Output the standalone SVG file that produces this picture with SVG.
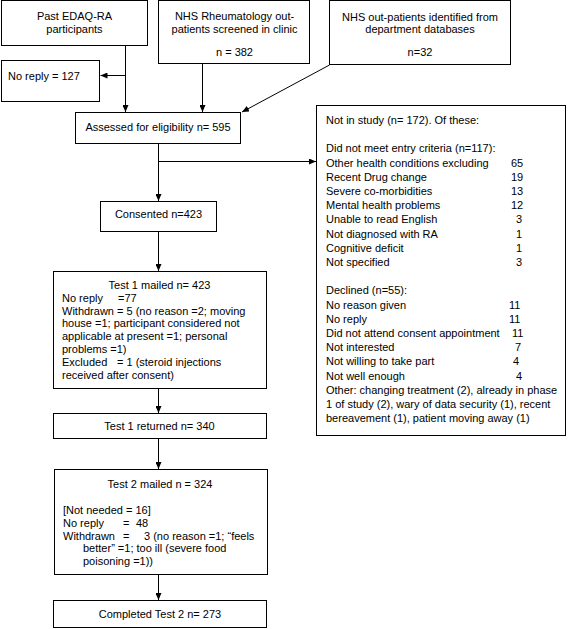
<svg xmlns="http://www.w3.org/2000/svg" width="568" height="629" viewBox="0 0 568 629">
<style>
.box{fill:#fff;stroke:#000;stroke-width:1}
text{font-family:"Liberation Sans",Arial,sans-serif;font-size:11px;fill:#000}
.c{text-anchor:middle}
.ln{fill:none;stroke:#000;stroke-width:1}
</style>
<defs>
<marker id="ah" markerWidth="7" markerHeight="6" refX="7" refY="3" orient="auto" markerUnits="userSpaceOnUse">
<path d="M0,0 L7,3 L0,6 z" fill="#000"/>
</marker>
</defs>
<rect width="568" height="629" fill="#fff"/>
<g id="connectors">
<line class="ln" x1="125.5" y1="46" x2="125.5" y2="112" marker-end="url(#ah)"/>
<line class="ln" x1="125.5" y1="75.5" x2="100.5" y2="75.5" marker-end="url(#ah)"/>
<line class="ln" x1="202.5" y1="64" x2="202.5" y2="112" marker-end="url(#ah)"/>
<line class="ln" x1="329.5" y1="65" x2="242" y2="112" marker-end="url(#ah)"/>
<line class="ln" x1="158.5" y1="144" x2="158.5" y2="201" marker-end="url(#ah)"/>
<line class="ln" x1="158.5" y1="161.5" x2="316" y2="161.5" marker-end="url(#ah)"/>
<line class="ln" x1="158.5" y1="232" x2="158.5" y2="271" marker-end="url(#ah)"/>
<line class="ln" x1="158.5" y1="389" x2="158.5" y2="413" marker-end="url(#ah)"/>
<line class="ln" x1="158.5" y1="439" x2="158.5" y2="469" marker-end="url(#ah)"/>
<line class="ln" x1="158.5" y1="575" x2="158.5" y2="600" marker-end="url(#ah)"/>
</g>
<g id="past">
<rect class="box" x="1.5" y="0.5" width="146" height="45"/>
<text class="c" x="74.5" y="20">Past EDAQ-RA</text>
<text class="c" x="74.5" y="32.5">participants</text>
</g>
<g id="rheum">
<rect class="box" x="158.5" y="0.5" width="151" height="63"/>
<text class="c" x="234.5" y="20">NHS Rheumatology out-</text>
<text class="c" x="234.5" y="32.5">patients screened in clinic</text>
<text class="c" x="234.5" y="56">n = 382</text>
</g>
<g id="databases">
<rect class="box" x="329.5" y="0.5" width="181" height="64"/>
<text class="c" x="420" y="20.5">NHS out-patients identified from</text>
<text class="c" x="420" y="33">department databases</text>
<text class="c" x="420" y="56">n=32</text>
</g>
<g id="noreply">
<rect class="box" x="1.5" y="60.5" width="98" height="41"/>
<text x="8" y="80">No reply = 127</text>
</g>
<g id="assessed">
<rect class="box" x="75.5" y="112.5" width="165" height="31"/>
<text class="c" x="158" y="131">Assessed for eligibility n= 595</text>
</g>
<g id="consented">
<rect class="box" x="100.5" y="201.5" width="116" height="30"/>
<text class="c" x="158.5" y="217.5">Consented n=423</text>
</g>
<g id="test1mailed">
<rect class="box" x="53.5" y="271.5" width="213" height="117"/>
<text class="c" x="159.5" y="289">Test 1 mailed n= 423</text>
<text x="62" y="301.8">No reply</text><text x="118" y="301.8">=77</text>
<text x="62" y="314.6">Withdrawn = 5 (no reason =2; moving</text>
<text x="62" y="327.4">house =1; participant considered not</text>
<text x="62" y="340.2">applicable at present =1; personal</text>
<text x="62" y="353">problems =1)</text>
<text x="62" y="365.8">Excluded</text><text x="117" y="365.8">= 1 (steroid injections</text>
<text x="62" y="378.6">received after consent)</text>
</g>
<g id="test1returned">
<rect class="box" x="53.5" y="413.5" width="213" height="25"/>
<text class="c" x="159.5" y="430">Test 1 returned n= 340</text>
</g>
<g id="test2mailed">
<rect class="box" x="54.5" y="469.5" width="213" height="105"/>
<text class="c" x="160" y="488">Test 2 mailed n = 324</text>
<text x="63" y="514">[Not needed = 16]</text>
<text x="63" y="526.8">No reply</text><text x="123" y="526.8">=</text><text x="136" y="526.8">48</text>
<text x="63" y="539.6">Withdrawn</text><text x="123" y="539.6">=</text><text x="144" y="539.6">3 (no reason =1; “feels</text>
<text x="83" y="552.4">better” =1; too ill (severe food</text>
<text x="83" y="565.2">poisoning =1))</text>
</g>
<g id="completed">
<rect class="box" x="53.5" y="600.5" width="213" height="27"/>
<text class="c" x="160" y="618">Completed Test 2 n= 273</text>
</g>
<g id="notinstudy">
<rect class="box" x="316.5" y="105.5" width="249" height="330"/>
<text x="326" y="124">Not in study (n= 172). Of these:</text>
<text x="326" y="152.4">Did not meet entry criteria (n=117):</text>
<text x="326" y="166.6">Other health conditions excluding</text><text x="511" y="166.6">65</text>
<text x="326" y="180.8">Recent Drug change</text><text x="511" y="180.8">19</text>
<text x="326" y="195">Severe co-morbidities</text><text x="511" y="195">13</text>
<text x="326" y="209.2">Mental health problems</text><text x="511" y="209.2">12</text>
<text x="326" y="223.4">Unable to read English</text><text x="516" y="223.4">3</text>
<text x="326" y="237.6">Not diagnosed with RA</text><text x="516" y="237.6">1</text>
<text x="326" y="251.8">Cognitive deficit</text><text x="516" y="251.8">1</text>
<text x="326" y="266">Not specified</text><text x="516" y="266">3</text>
<text x="326" y="294.4">Declined (n=55):</text>
<text x="326" y="308.6">No reason given</text><text x="509" y="308.6">11</text>
<text x="326" y="322.8">No reply</text><text x="509" y="322.8">11</text>
<text x="326" y="337">Did not attend consent appointment</text><text x="512" y="337">11</text>
<text x="326" y="351.2">Not interested</text><text x="515" y="351.2">7</text>
<text x="326" y="365.4">Not willing to take part</text><text x="513" y="365.4">4</text>
<text x="326" y="379.6">Not well enough</text><text x="516" y="379.6">4</text>
<text x="326" y="393.8">Other: changing treatment (2), already in phase</text>
<text x="326" y="408">1 of study (2), wary of data security (1), recent</text>
<text x="326" y="422.2">bereavement (1), patient moving away (1)</text>
</g>
</svg>
